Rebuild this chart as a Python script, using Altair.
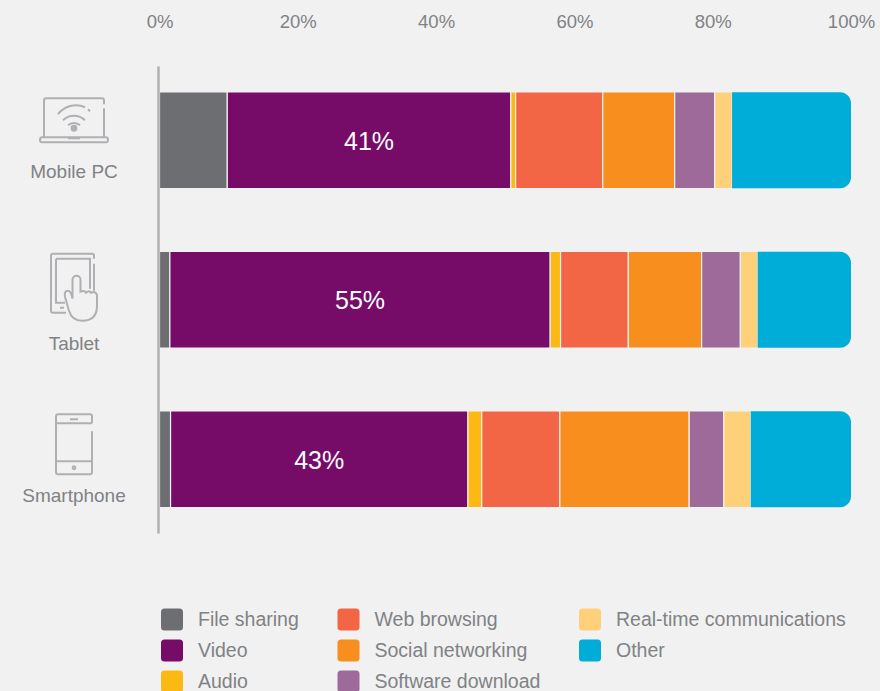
import altair as alt
import pandas as pd

# Share of traffic by device and application type, in percent
devices = ["Mobile PC", "Tablet", "Smartphone"]
categories = ["File sharing", "Video", "Audio", "Web browsing", "Social networking",
              "Software download", "Real-time communications", "Other"]
colors = ["#6d6e71", "#760b68", "#fdb913", "#f36645", "#f78e1e", "#9e6a99", "#ffd07a", "#00acd8"]
mobile_pc = [9.8, 41, 0.7, 12.6, 10.4, 5.8, 2.5, 17.2]
tablet = [1.5, 55, 1.5, 9.8, 10.6, 5.6, 2.5, 13.5]
smartphone = [1.6, 43, 2.0, 11.3, 18.7, 5.0, 3.9, 14.5]
tick_values = [0, 20, 40, 60, 80, 100]

GREY_TEXT = "#808285"
ICON_GREY = "#aeb0b3"
BG = "#f1f1f1"
FONT = "Liberation Sans"

# Outline icons, in pixels around each device row's anchor point
LAPTOP = (
    "M30,-36 V-40 Q30,-42 28,-42 H-28 Q-30,-42 -30,-40 V-3 M30,-32 V-3 "
    "M-32,-3 H32 Q34,-3 34,-0.5 Q34,2 32,2 H-32 Q-34,2 -34,-0.5 Q-34,-3 -32,-3 Z M-6,-2 H6 "
    "M-6,-15 A9,9 0 0 1 6,-15 "
    "M-11,-20 A15.5,15.5 0 0 1 11,-20 "
    "M-16,-26 A22.5,22.5 0 0 1 11,-33 M14,-31 L16,-29 "
    "M-2.4,-12 A2.4,2.4 0 1 0 2.4,-12 A2.4,2.4 0 1 0 -2.4,-12 Z M-0.8,-12 A0.8,0.8 0 1 0 0.8,-12 A0.8,0.8 0 1 0 -0.8,-12 Z"
)
TABLET = (
    "M20,-41 V-44 Q20,-46 18,-46 H-21 Q-23,-46 -23,-44 V11 Q-23,13 -21,13 H-8 M20,-36 V-9 "
    "M-18,-41 H16 V-11 M-18,-41 V3 H-9 M-14,8 H-10 "
    "M-1.5,-1 V-20 A4,4 0 0 1 6.5,-20 V-8 Q10,-10 12,-7 Q15,-10 17,-7 Q21,-9 23,-5 V6 "
    "Q23,21 8,21 Q-2,21 -5,11 L-9,-3 Q-10,-9 -6,-9 Q-3,-9 -1.5,-1"
)
PHONE = (
    "M18,-36 V-43 Q18,-45 16,-45 H-16 Q-18,-45 -18,-43 V13 Q-18,15 -16,15 H16 Q18,15 18,13 V-28 "
    "M-18,-36 H18 M-18,2 H18 M-4,-40 H4 "
    "M-1.4,8.5 A1.4,1.4 0 1 0 1.4,8.5 A1.4,1.4 0 1 0 -1.4,8.5 Z"
)
icons = {"Mobile PC": LAPTOP, "Tablet": TABLET, "Smartphone": PHONE}
label_shift = {"Mobile PC": 32, "Tablet": 44, "Smartphone": 36.5}

series = {"Mobile PC": mobile_pc, "Tablet": tablet, "Smartphone": smartphone}
rows = [
    {"device": d, "category": c, "order": i, "value": v}
    for d, vals in series.items()
    for i, (c, v) in enumerate(zip(categories, vals))
]
df = pd.DataFrame(rows)

x_scale = alt.Scale(domain=[0, 100], nice=False, zero=False)
y_enc = alt.Y("device:N", sort=devices, axis=None)
color_enc = alt.Color(
    "category:N",
    scale=alt.Scale(domain=categories, range=colors),
    sort=categories,
    legend=alt.Legend(
        title=None,
        orient="none",
        legendX=1.5,
        legendY=548,
        columns=3,
        direction="vertical",
        columnPadding=38.5,
        rowPadding=9,
        symbolType="M-0.68,-1 H0.68 Q1,-1 1,-0.68 V0.68 Q1,1 0.68,1 H-0.68 Q-1,1 -1,0.68 V-0.68 Q-1,-1 -0.68,-1 Z",
        symbolSize=484,
        symbolStrokeWidth=0,
        symbolOpacity=1,
        labelFont=FONT,
        labelFontSize=19.5,
        labelColor=GREY_TEXT,
        labelOffset=15,
        labelLimit=300,
    ),
)

base = alt.Chart(df).transform_stack(
    stack="value",
    groupby=["device"],
    sort=[alt.SortField("order", order="ascending")],
    as_=["x0", "x1"],
)

x_enc = alt.X(
    "x0:Q",
    scale=x_scale,
    axis=alt.Axis(
        orient="top",
        values=tick_values,
        title=None,
        grid=False,
        ticks=False,
        domain=False,
        labelExpr="datum.value + '%'",
        labelFont=FONT,
        labelFontSize=18.5,
        labelColor=GREY_TEXT,
        labelPadding=29,
        labelFlush=False,
    ),
)

segments = base.transform_filter(alt.datum.category != "Other").mark_bar(
    size=96.5, stroke=BG, strokeWidth=1.2
).encode(x=x_enc, x2="x1:Q", y=y_enc, color=color_enc)

# The last segment carries the rounded end of each bar
ends = base.transform_filter(alt.datum.category == "Other").mark_bar(
    size=96, cornerRadiusTopRight=11, cornerRadiusBottomRight=11
).encode(x=x_enc, x2="x1:Q", y=y_enc, color=color_enc)

video_labels = base.transform_filter(alt.datum.category == "Video").transform_calculate(
    mid="(datum.x0 + datum.x1) / 2", label="datum.value + '%'"
).mark_text(color="white", font=FONT, fontSize=25, dy=1.5).encode(
    x=alt.X("mid:Q", scale=x_scale), y=y_enc, text="label:N"
)

baseline = alt.Chart(pd.DataFrame({"a": [0]})).mark_rule(color=ICON_GREY, strokeWidth=2.5).encode(
    x=alt.value(-1), y=alt.value(6), y2=alt.value(473)
)

layers = [segments, ends, video_labels, baseline]

for device in devices:
    row = alt.Chart(pd.DataFrame({"device": [device]}))
    layers.append(
        row.mark_point(
            shape=icons[device], size=4, filled=False, stroke=ICON_GREY, strokeWidth=2, opacity=1
        ).encode(x=alt.value(-85.5), y=y_enc)
    )
    layers.append(
        row.mark_text(font=FONT, fontSize=19, color=GREY_TEXT, dy=label_shift[device]).encode(
            x=alt.value(-85.5), y=y_enc, text="device:N"
        )
    )

chart = (
    alt.layer(*layers)
    .properties(
        width=691.5,
        height=478.5,
        padding={"left": 159.5, "top": 60.5, "right": 29, "bottom": 152},
        autosize=alt.AutoSizeParams(type="none"),
        background=BG,
    )
    .configure_view(stroke=None)
)

chart.save("out.html", embed_options={"renderer": "svg", "actions": False})
